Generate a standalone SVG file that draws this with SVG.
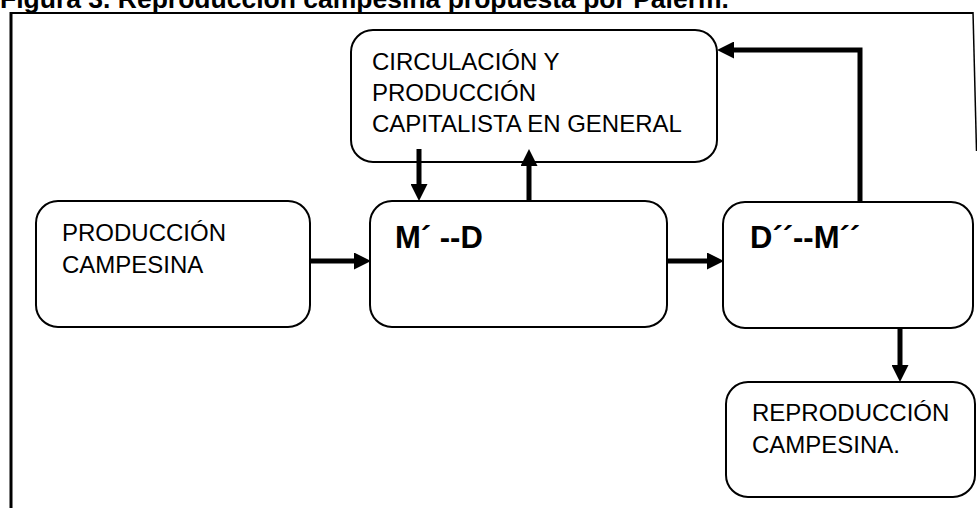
<svg xmlns="http://www.w3.org/2000/svg" width="977" height="508" viewBox="0 0 977 508">
<style>
.box{fill:#fff;stroke:#000;stroke-width:2}
.t{font-family:"Liberation Sans",Arial,sans-serif;font-size:24px;fill:#000}
.b{font-family:"Liberation Sans",Arial,sans-serif;font-size:31px;font-weight:bold;fill:#000}
.c{fill:none;stroke:#000;stroke-width:5}
.fr{fill:none;stroke:#000}
</style>
<defs>
<marker id="ah" viewBox="0 0 17 17" refX="1" refY="8.5" markerWidth="17" markerHeight="17" markerUnits="userSpaceOnUse" orient="auto">
<path d="M0,0 L17,8.5 L0,17 z" fill="#000"/>
</marker>
</defs>
<rect width="977" height="508" fill="#fff"/>
<text x="0" y="8" font-family="Liberation Sans,Arial,sans-serif" font-size="26.5" font-weight="bold">Figura 3. Reproducción campesina propuesta por Palerm.</text>
<g id="frame">
<line class="fr" x1="11" y1="508" x2="11" y2="12" stroke-width="3"/>
<line class="fr" x1="10" y1="13" x2="973" y2="13" stroke-width="2"/>
<line class="fr" x1="973" y1="12" x2="976.5" y2="151" stroke-width="1.5"/>
</g>
<g id="circulacion">
<rect class="box" x="351" y="30" width="366" height="132" rx="22"/>
<text class="t" x="372" y="70">CIRCULACIÓN Y</text>
<text class="t" x="372" y="101">PRODUCCIÓN</text>
<text class="t" x="372" y="132">CAPITALISTA EN GENERAL</text>
</g>
<g id="produccion">
<rect class="box" x="36" y="201" width="274" height="126" rx="22"/>
<text class="t" x="62" y="241">PRODUCCIÓN</text>
<text class="t" x="62" y="273">CAMPESINA</text>
</g>
<g id="md">
<rect class="box" x="370" y="201" width="297" height="126" rx="22"/>
<text class="b" x="395" y="248">M´ --D</text>
</g>
<g id="dm">
<rect class="box" x="723" y="202" width="250" height="126" rx="22"/>
<text class="b" x="750" y="248">D´´--M´´</text>
</g>
<g id="reproduccion">
<rect class="box" x="726" y="382" width="249" height="115" rx="22"/>
<text class="t" x="752" y="421">REPRODUCCIÓN</text>
<text class="t" x="752" y="453">CAMPESINA.</text>
</g>
<g id="connectors">
<line class="c" x1="310" y1="261" x2="355" y2="261" marker-end="url(#ah)"/>
<line class="c" x1="667" y1="261" x2="708" y2="261" marker-end="url(#ah)"/>
<line class="c" x1="419" y1="149" x2="419" y2="185" marker-end="url(#ah)"/>
<line class="c" x1="529" y1="201" x2="529" y2="165" marker-end="url(#ah)"/>
<path class="c" d="M860,202 V50 H733" marker-end="url(#ah)"/>
<line class="c" x1="900" y1="328" x2="900" y2="366" marker-end="url(#ah)"/>
</g>
</svg>
